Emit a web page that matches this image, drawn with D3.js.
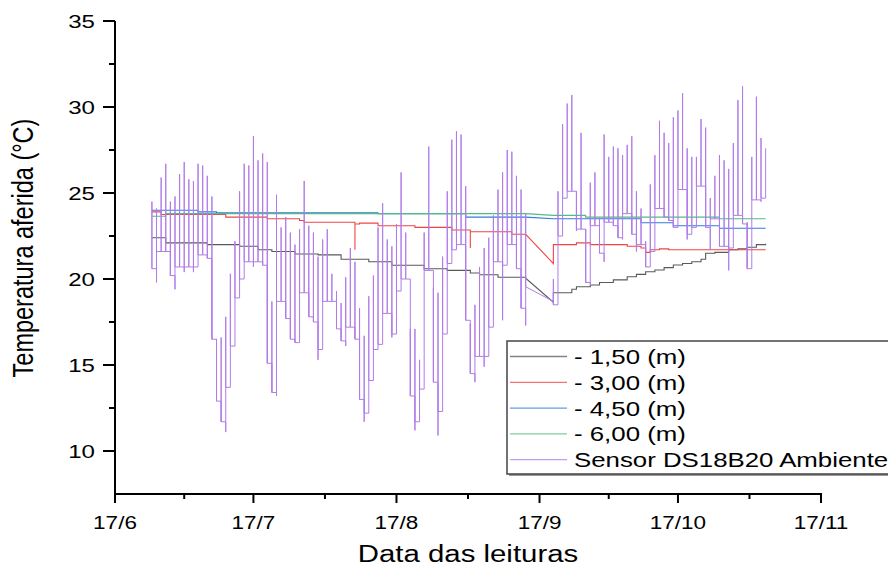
<!DOCTYPE html>
<html lang="pt">
<head>
<meta charset="UTF-8">
<title>Temperatura aferida</title>
<script src="https://cdn.jsdelivr.net/npm/d3@7"></script>
<style>
  body { margin: 0; background: #fff; }
  text { font-family: "Liberation Sans", Arial, sans-serif; fill: #000; }
</style>
</head>
<body>
<script>
  // leituras diarias a partir de 25/6 (indice = dias depois do primeiro dia)
  const primeiroDia = "2019-06-25";

  // sensor DS18B20 ambiente: maxima e minima de cada dia (null = sem leitura)
  const ambMax = [
    24.5, 24.1, 25.9, 26.7, 24.5, 24.8, 26.1, 26.8, 25.8, 25.7,
    26.7, 26.6, 26.0, 24.8, 16.5, 16.6, 17.8, 20.3, 22.2, 25.1,
    26.7, 26.6, 28.3, 26.9, 27.3, 26.8, 18.7, 24.9, 23.0, 23.6,
    22.7, 22.0, 22.9, 25.7, 23.1, 22.7, 21.3, 22.3, 22.9, 20.3,
    19.3, 18.6, 20.1, 21.8, 21.0, 18.3, 16.7, 19.0, 20.2, 23.0,
    24.4, 22.3, 21.9, 23.2, 26.2, 22.7, 17.1, 17.1, 15.3, 22.7,
    27.7, 19.5, 19.2, 21.3, 25.1, 28.1, 28.6, 28.4, 25.4, 17.4,
    18.5, 20.7, 21.8, 22.4, 23.7, 25.2, 26.2, 27.5, 27.4, 26.0,
    25.2, 23.8, null, null, null, null, null, 20.0, 25.1, 29.0,
    30.2, 30.7, 25.1, 28.5, 22.9, 25.6, 26.2, 23.6, 28.4, 27.1,
    27.7, 27.6, 27.2, 27.8, 28.3, 25.1, 24.1, 22.2, 25.5, 27.2,
    29.2, 28.5, 27.9, 29.4, 29.8, 30.8, 27.6, 27.1, 27.1, 29.3,
    28.8, 24.7, 26.0, 27.2, 26.9, 26.4, 27.9, 30.4, 31.2, 23.3,
    27.1, 30.6, 28.2, 27.6
  ];
  const ambMin = [
    20.6, 19.8, 21.6, 21.6, 20.2, 19.4, 20.7, 20.4, 20.7, 20.4,
    20.7, 21.4, 21.2, 16.5, 12.9, 11.7, 11.1, 13.7, 16.1, 18.9,
    20.0, 21.0, 20.7, 21.0, 20.8, 15.1, 13.4, 13.2, 18.7, 17.7,
    16.5, 16.3, 16.3, 19.2, 17.8, 17.5, 15.3, 15.9, 18.7, 18.7,
    17.1, 16.4, 16.1, 17.2, 16.5, 13.0, 11.7, 12.2, 14.1, 15.9,
    16.2, 18.0, 16.6, 16.8, 19.3, 20.0, 13.2, 11.2, 11.7, 13.6,
    20.5, 14.0, 10.9, 12.3, 16.8, 20.9, 21.7, 22.0, 17.6, 14.5,
    14.0, 15.5, 14.9, 15.5, 17.2, 21.0, 17.6, 20.8, 22.0, 20.6,
    18.3, 17.3, null, null, null, null, null, 18.5, 18.5, 22.5,
    24.7, 25.1, 22.8, 22.9, 19.8, 19.7, 23.1, 21.5, 21.0, 23.3,
    23.1, 22.4, 22.3, 23.8, 22.6, 21.6, 22.0, 20.7, 20.7, 21.6,
    24.1, 23.6, 23.4, 23.0, 23.0, 25.2, 22.3, 22.6, 23.0, 25.4,
    23.0, 21.7, 23.5, 21.9, 21.9, 20.5, 21.8, 23.7, 23.2, 20.6,
    20.6, 24.6, 24.5, 24.7
  ];

  // intervalo sem leituras (dia antes, dia depois) e valores do ambiente nas pontas
  const lacuna = [81, 87];
  const ambLacuna = [19.55, 18.7];

  // sensores no solo: [dia, temperatura] a cada mudanca de leitura
  const prof150 = [[0, 22.4], [3, 22.1], [12, 22.0], [19, 21.9], [23, 21.7], [26, 21.6],
    [31, 21.45], [36, 21.4], [41, 21.15], [47, 21.0], [52, 20.8], [59, 20.6], [64, 20.5],
    [69, 20.35], [71, 20.25], [75, 20.1], [81, 20.05], [87, 18.65], [87, 19.2], [91, 19.4],
    [92, 19.55], [95, 19.65], [97, 19.8], [100, 19.95], [103, 20.13], [105, 20.27],
    [107, 20.42], [109, 20.52], [111, 20.66], [113, 20.81], [115, 20.9], [117, 21.0],
    [119, 21.15], [120, 21.5], [122, 21.55], [125, 21.7], [127, 21.75], [129, 21.85],
    [131, 22.0], [133, 22.05]];
  const prof300 = [[0, 23.9], [2, 23.75], [16, 23.6], [25, 23.5], [32, 23.4], [33, 23.3],
    [44, 23.2], [44, 21.7], [44, 23.2], [45, 23.25], [49, 23.1], [57, 23.0], [65, 22.85],
    [69, 21.8], [69, 22.75], [78, 22.6], [81, 22.6], [87, 20.9], [87, 22.0], [92, 22.1],
    [95, 22.0], [103, 21.9], [106, 21.8], [107, 21.55], [108, 21.7], [110, 21.75],
    [112, 21.7], [133, 21.7]];
  const prof450 = [[0, 24.0], [10, 23.9], [14, 23.85], [49, 23.8], [68, 23.6], [81, 23.6],
    [87, 23.5], [106, 23.27], [113, 23.1], [123, 22.95], [133, 22.95]];
  const prof600 = [[0, 23.65], [3, 23.8], [81, 23.8], [87, 23.7], [94, 23.6], [123, 23.5],
    [133, 23.5]];

  const rotulos = ["- 1,50 (m)", "- 3,00 (m)", "- 4,50 (m)", "- 6,00 (m)", "Sensor DS18B20 Ambiente"];
  const cores = ["#5a5a5a", "#f04444", "#3478e0", "#52bd80", "#b07ce8"];

  const xTicks = ["2019-06-17", "2019-07-17", "2019-08-17", "2019-09-17", "2019-10-17", "2019-11-17"];
  const yTicks = [10, 15, 20, 25, 30, 35];

  const W = 888, H = 568;
  const esticar = 1.25; // o texto da figura original esta alargado na horizontal

  const svg = d3.select("body").append("svg")
    .attr("width", W)
    .attr("height", H);

  const dataIso = d3.utcParse("%Y-%m-%d");
  const dia0 = dataIso(primeiroDia);
  const diaX = k => x(d3.utcDay.offset(dia0, k));

  const x = d3.scaleUtc()
    .domain([dataIso(xTicks[0]), dataIso(xTicks[xTicks.length - 1])])
    .range([115, 821]);
  const y = d3.scaleLinear()
    .domain([7.5, 35])
    .range([494, 21]);

  // degraus: cada sensor fica no mesmo valor ate a proxima leitura
  function degraus(pts) {
    const out = [];
    pts.forEach((p, i) => {
      if (i > 0) {
        const q = pts[i - 1];
        if (!(q[0] === lacuna[0] && p[0] === lacuna[1])) out.push([p[0], q[1]]);
      }
      out.push(p);
    });
    return out;
  }

  const linha = d3.line()
    .x(d => diaX(d[0]))
    .y(d => y(d[1]));

  const plot = svg.append("g");

  [prof150, prof300, prof450, prof600].forEach((s, i) => {
    plot.append("path")
      .attr("d", linha(degraus(s)))
      .attr("fill", "none")
      .attr("stroke", cores[i])
      .attr("stroke-width", 1.1);
  });

  // ambiente: todas as leituras do dia caem no mesmo x -> traco vertical min..max,
  // a passagem para o dia seguinte fica na madrugada (perto das minimas)
  const amb = [];
  ambMax.forEach((hi, k) => {
    if (hi == null) return;
    if (k === lacuna[1]) amb.push([k, ambLacuna[1]]);
    amb.push([k, ambMin[k]], [k, hi]);
    if (k === lacuna[0]) amb.push([k, ambLacuna[0]]);
    else if (ambMin[k + 1] != null) amb.push([k, Math.max(ambMin[k], ambMin[k + 1])], [k + 1, Math.max(ambMin[k], ambMin[k + 1])]);
  });
  plot.append("path")
    .attr("d", linha(amb))
    .attr("fill", "none")
    .attr("stroke", cores[4])
    .attr("stroke-width", 1);

  // eixos
  const fmt = d3.utcFormat("%-d/%-m");
  const majX = xTicks.map(dataIso);
  const minX = d3.pairs(majX).map(([a, b]) => new Date((+a + +b) / 2));

  const eixoX = svg.append("g").attr("transform", "translate(0,494)");
  eixoX.append("line")
    .attr("x1", 114).attr("x2", x.range()[1] + 1)
    .attr("stroke", "#000").attr("stroke-width", 2);
  eixoX.selectAll(".maj").data(majX).join("line")
    .attr("x1", d => x(d)).attr("x2", d => x(d))
    .attr("y1", 0).attr("y2", 9)
    .attr("stroke", "#000").attr("stroke-width", 2);
  eixoX.selectAll(".min").data(minX).join("line")
    .attr("x1", d => x(d)).attr("x2", d => x(d))
    .attr("y1", 0).attr("y2", 5)
    .attr("stroke", "#000").attr("stroke-width", 2);
  eixoX.selectAll("text").data(majX).join("text")
    .attr("transform", d => `translate(${x(d)},35) scale(${esticar},1)`)
    .attr("text-anchor", "middle")
    .attr("font-size", 18)
    .text(fmt);

  const eixoY = svg.append("g").attr("transform", "translate(115,0)");
  eixoY.append("line")
    .attr("y1", y.range()[0] + 1).attr("y2", y.range()[1])
    .attr("stroke", "#000").attr("stroke-width", 2);
  eixoY.selectAll(".maj").data(yTicks).join("line")
    .attr("x1", -12).attr("x2", 0)
    .attr("y1", d => y(d)).attr("y2", d => y(d))
    .attr("stroke", "#000").attr("stroke-width", 2);
  eixoY.selectAll(".min").data(yTicks.slice(0, -1).map(v => v + 2.5)).join("line")
    .attr("x1", -6).attr("x2", 0)
    .attr("y1", d => y(d)).attr("y2", d => y(d))
    .attr("stroke", "#000").attr("stroke-width", 2);
  eixoY.selectAll("text").data(yTicks).join("text")
    .attr("transform", d => `translate(-20,${y(d) + 6.5}) scale(1.3,1)`)
    .attr("text-anchor", "end")
    .attr("font-size", 18.5)
    .text(d => d);

  // titulos
  svg.append("text")
    .attr("transform", `translate(468,562) scale(${esticar},1)`)
    .attr("text-anchor", "middle")
    .attr("font-size", 23.5)
    .text("Data das leituras");
  svg.append("text")
    .attr("transform", `translate(33,248) scale(${esticar},1) rotate(-90)`)
    .attr("text-anchor", "middle")
    .attr("font-size", 23.5)
    .text("Temperatura aferida (°C)");

  // legenda
  const leg = svg.append("g").attr("transform", "translate(507,341)");
  leg.append("rect")
    .attr("x", 2).attr("y", 2).attr("width", 400).attr("height", 133)
    .attr("fill", "#999");
  leg.append("rect")
    .attr("width", 400).attr("height", 133)
    .attr("fill", "#fff").attr("stroke", "#444").attr("stroke-width", 1.5);
  const item = leg.selectAll(".item").data(rotulos).join("g")
    .attr("transform", (d, i) => `translate(0,${15.5 + i * 25.8})`);
  item.append("line")
    .attr("x1", 3).attr("x2", 60)
    .attr("stroke", (d, i) => cores[i])
    .attr("stroke-opacity", 0.75)
    .attr("stroke-width", 1.3);
  item.append("text")
    .attr("transform", `translate(67,7.5) scale(1.23,1)`)
    .attr("font-size", 21)
    .text(d => d);
</script>
</body>
</html>
